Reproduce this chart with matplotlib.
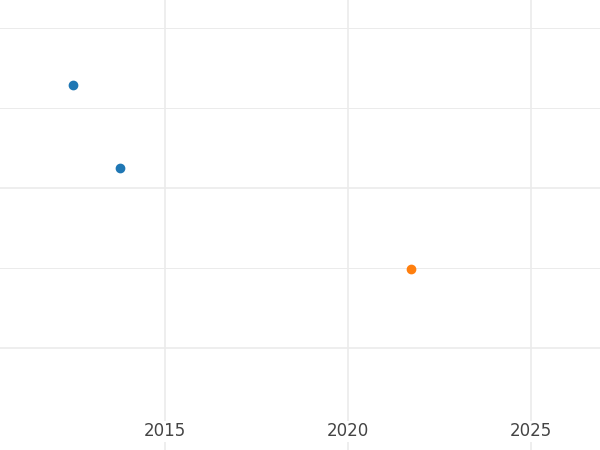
import matplotlib
matplotlib.use("Agg")
import matplotlib.pyplot as plt

blue_x = [2012.49, 2013.77]
blue_y = [3.29, 2.25]
orange_x = [2021.72]
orange_y = [0.99]
xticks = [2015, 2020, 2025]

fig = plt.figure(figsize=(6, 4.5), dpi=100)
ax = fig.add_axes([0, 0, 1, 1])
for y, lw in [(0, 1.2), (1, 0.7), (2, 1.2), (3, 0.7), (4, 0.7)]:
    ax.axhline(y, color="#ebebeb", lw=lw, zorder=0)
for x in xticks:
    ax.axvline(x, color="#ebebeb", lw=1.2, zorder=0)
ax.scatter(blue_x, blue_y, color="#1f77b4", s=36, zorder=3)
ax.scatter(orange_x, orange_y, color="#ff7f0e", s=36, zorder=3)
ax.set_xlim(2010.49, 2026.89)
ax.set_ylim(-1.275, 4.35)
ax.set_xticks(xticks)
ax.set_xticklabels([str(x) for x in xticks])
ax.set_yticks([])
ax.tick_params(axis="x", length=0, labelsize=12, colors="#444444", pad=-20)
for t in ax.get_xticklabels():
    t.set_bbox(dict(facecolor="white", edgecolor="none", pad=1))
for s in ax.spines.values():
    s.set_visible(False)
fig.savefig("out.png", dpi=100)
